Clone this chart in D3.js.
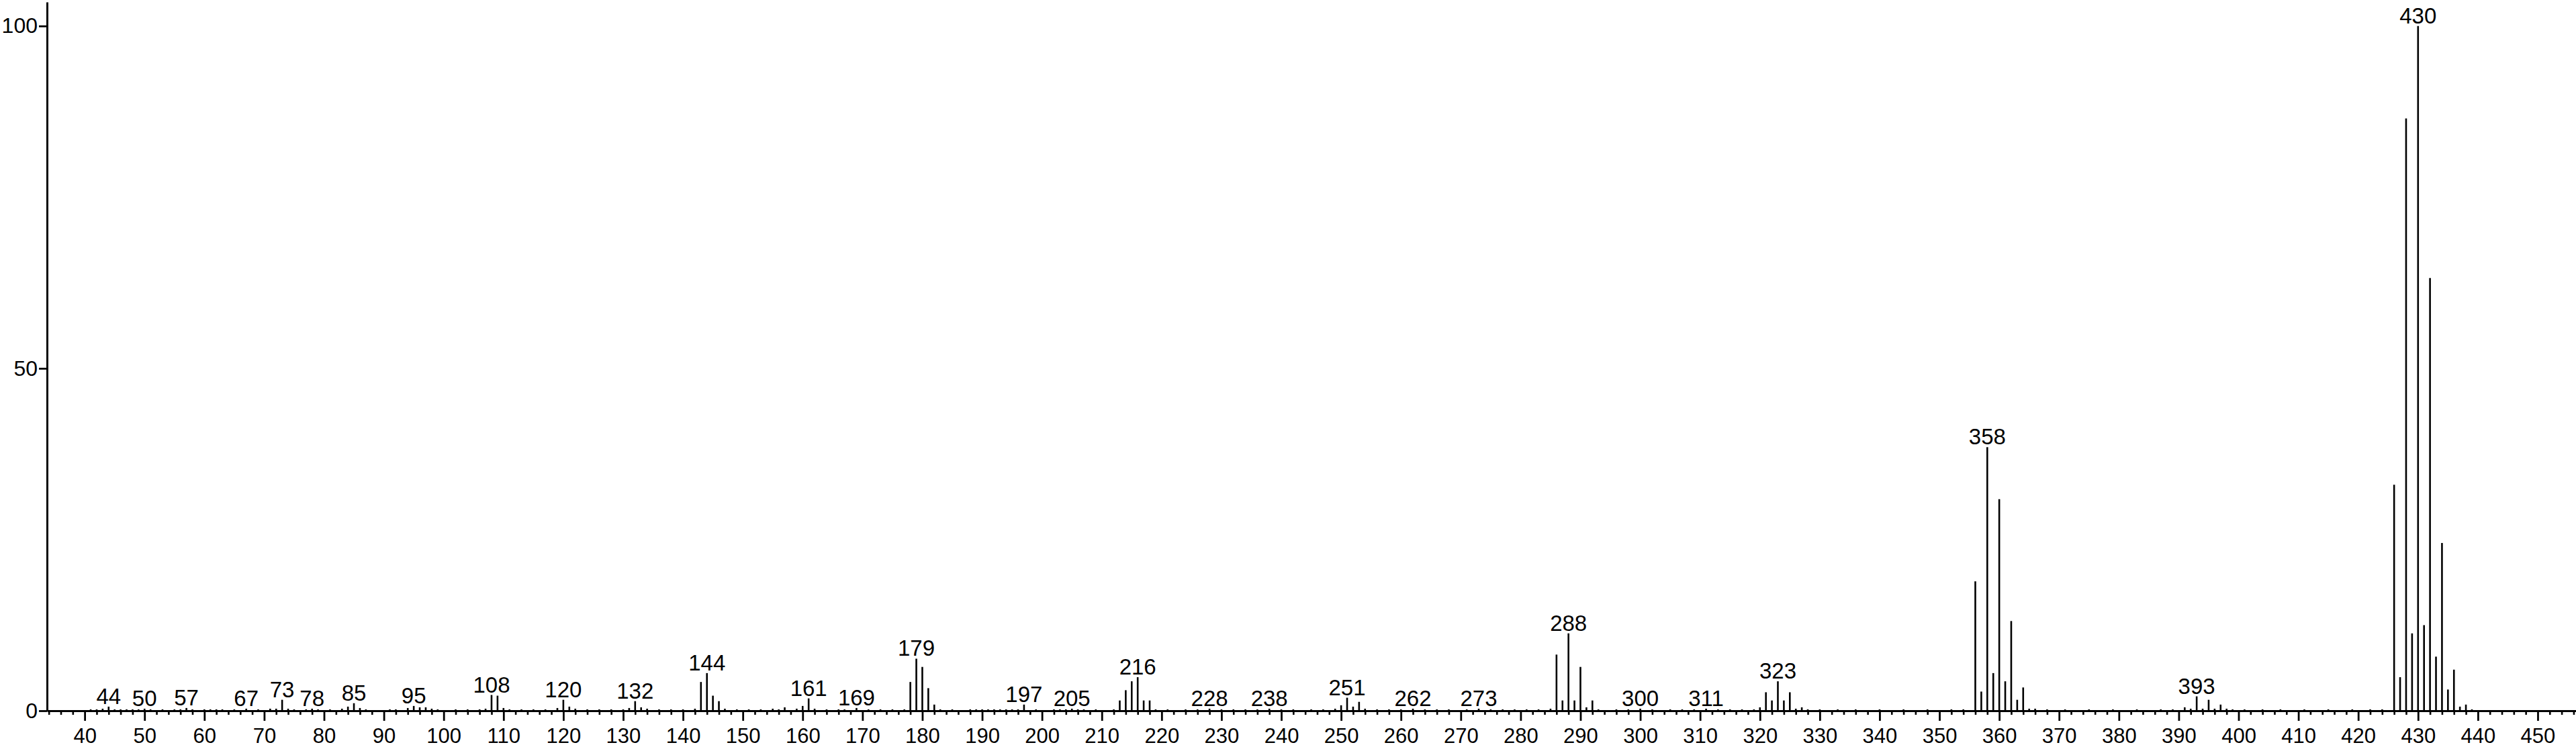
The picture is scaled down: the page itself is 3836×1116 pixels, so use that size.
<!DOCTYPE html>
<html>
<head>
<meta charset="utf-8">
<script src="https://cdn.jsdelivr.net/npm/d3@7"></script>
<style>
  body { margin: 0; background: #fff; }
  text { font-family: "Liberation Sans", Arial, sans-serif; fill: #000; }
</style>
</head>
<body>
<div id="chart"></div>
<script>
// m/z and relative intensity (%)
var mz = [41,42,43,44,45,46,47,48,49,50,51,53,55,56,57,58,60,61,62,63,65,67,69,71,72,73,74,75,77,78,79,81,83,84,85,86,87,91,92,94,95,96,97,98,99,
  102,104,106,107,108,109,110,111,113,115,117,119,120,121,122,124,126,128,130,131,132,133,134,136,138,140,142,143,144,145,146,147,149,
  151,153,155,156,157,159,160,161,162,164,166,167,169,171,173,175,177,178,179,180,181,182,183,185,188,189,190,191,192,193,194,195,196,197,199,
  202,203,204,205,206,207,209,212,213,214,215,216,217,218,219,221,224,226,228,230,232,234,236,238,240,242,245,247,249,
  250,251,252,253,254,256,258,260,262,264,266,268,271,273,275,277,279,281,283,285,286,287,288,289,290,291,292,293,296,298,
  300,302,305,307,309,311,313,315,317,319,320,321,322,323,324,325,326,327,328,330,333,336,340,344,348,352,354,
  356,357,358,359,360,361,362,363,364,365,366,368,371,375,379,383,387,389,391,392,393,394,395,396,397,398,399,
  401,404,407,411,415,419,422,424,426,427,428,429,430,431,432,433,434,435,436,437,438,439];

var intensity = [0.2,0.2,0.3,0.6,0.2,0.2,0.2,0.2,0.2,0.3,0.2,0.2,0.2,0.2,0.4,0.2,0.2,0.2,0.2,0.2,0.2,0.3,0.2,0.3,0.3,1.6,0.3,0.2,0.2,0.3,0.2,0.2,0.3,0.6,1.1,0.4,0.2,0.2,0.2,0.4,0.7,0.5,0.5,0.3,0.2,
  0.2,0.2,0.2,0.3,2.3,2.2,0.4,0.2,0.2,0.2,0.2,0.4,1.6,0.6,0.3,0.2,0.2,0.2,0.2,0.4,1.4,0.5,0.3,0.2,0.2,0.2,0.3,4.2,5.5,2.2,1.4,0.3,0.2,
  0.2,0.2,0.3,0.2,0.5,0.3,0.7,1.8,0.3,0.2,0.2,0.2,0.4,0.2,0.2,0.2,0.2,4.2,7.6,6.4,3.3,0.9,0.2,0.2,0.2,0.2,0.2,0.2,0.2,0.2,0.2,0.2,0.2,0.9,0.2,
  0.2,0.2,0.2,0.3,0.2,0.2,0.2,0.2,1.5,3.0,4.3,4.9,1.5,1.5,0.2,0.2,0.2,0.2,0.3,0.2,0.2,0.2,0.2,0.3,0.2,0.2,0.2,0.2,0.3,
  0.8,1.9,0.6,1.3,0.3,0.2,0.2,0.2,0.3,0.2,0.2,0.2,0.2,0.3,0.2,0.2,0.2,0.2,0.2,0.3,8.2,1.5,11.3,1.5,6.4,0.5,1.5,0.2,0.2,0.2,
  0.3,0.2,0.2,0.2,0.2,0.3,0.2,0.2,0.2,0.2,0.5,2.7,1.5,4.3,1.5,2.7,0.3,0.5,0.2,0.2,0.2,0.2,0.2,0.2,0.2,0.2,0.2,
  18.9,2.8,38.5,5.5,30.9,4.3,13.1,1.6,3.4,0.3,0.3,0.2,0.2,0.2,0.2,0.2,0.2,0.2,0.5,0.3,2.1,0.3,1.6,0.3,0.9,0.3,0.2,
  0.2,0.2,0.2,0.2,0.2,0.2,0.2,0.2,33,4.9,86.5,11.3,100,12.5,63.2,7.9,24.5,3.1,6.0,0.6,0.9,0.2];

// peaks that carry a label
var labeledMz = [44,50,57,67,73,78,85,95,108,120,132,144,161,169,179,197,205,216,228,238,251,262,273,288,300,311,323,358,393,430];

var xMajorTicks = d3.range(40, 451, 10);
var xMinorTicks = d3.range(34, 457, 2).filter(function(d){ return d % 10 != 0; });
var yTicks = [0, 50, 100];

var width = 3836;
var height = 1116;

var x = d3.scaleLinear().domain([33.7, 456.4]).range([70, 3836]);
var y = d3.scaleLinear().domain([0, 103.5]).range([1059, 3]);

var svg = d3.select('#chart')
  .append('svg')
  .attr('width', width)
  .attr('height', height);

var peaks = mz.map(function(m, i){ return {mz: m, value: intensity[i]}; });

svg.append('g')
  .selectAll('line')
  .data(peaks)
  .enter()
  .append('line')
  .attr('x1', function(d){ return x(d.mz); })
  .attr('x2', function(d){ return x(d.mz); })
  .attr('y1', y(0))
  .attr('y2', function(d){ return y(d.value); })
  .attr('stroke', '#000')
  .attr('stroke-width', 2.6);

// minor ticks every 2
var minorAxis = svg.append('g')
  .attr('transform', 'translate(0,' + y(0) + ')')
  .call(d3.axisBottom(x).tickValues(xMinorTicks).tickSize(6).tickSizeOuter(0).tickFormat(''));
minorAxis.select('.domain').remove();
minorAxis.selectAll('line').attr('stroke-width', 2.6);

var xAxis = svg.append('g')
  .attr('transform', 'translate(0,' + y(0) + ')')
  .call(d3.axisBottom(x).tickValues(xMajorTicks).tickSize(15).tickSizeOuter(0).tickPadding(11));
xAxis.select('.domain').attr('stroke-width', 3);
xAxis.selectAll('line').attr('stroke-width', 2.8);
xAxis.selectAll('text').style('font-size', '31px').attr('font-family', null);

var yAxis = svg.append('g')
  .attr('transform', 'translate(' + x(33.7) + ',0)')
  .call(d3.axisLeft(y).tickValues(yTicks).tickSize(12).tickSizeOuter(0).tickPadding(2));
yAxis.select('.domain').attr('stroke-width', 3);
yAxis.selectAll('line').attr('stroke-width', 2.8);
yAxis.selectAll('text').style('font-size', '32px').attr('font-family', null);

svg.append('g')
  .selectAll('text')
  .data(peaks.filter(function(d){ return labeledMz.indexOf(d.mz) >= 0; }))
  .enter()
  .append('text')
  .attr('x', function(d){ return x(d.mz); })
  .attr('y', function(d){ return y(d.value) - 4; })
  .attr('text-anchor', 'middle')
  .style('font-size', '33px')
  .text(function(d){ return d.mz; });
</script>
</body>
</html>
